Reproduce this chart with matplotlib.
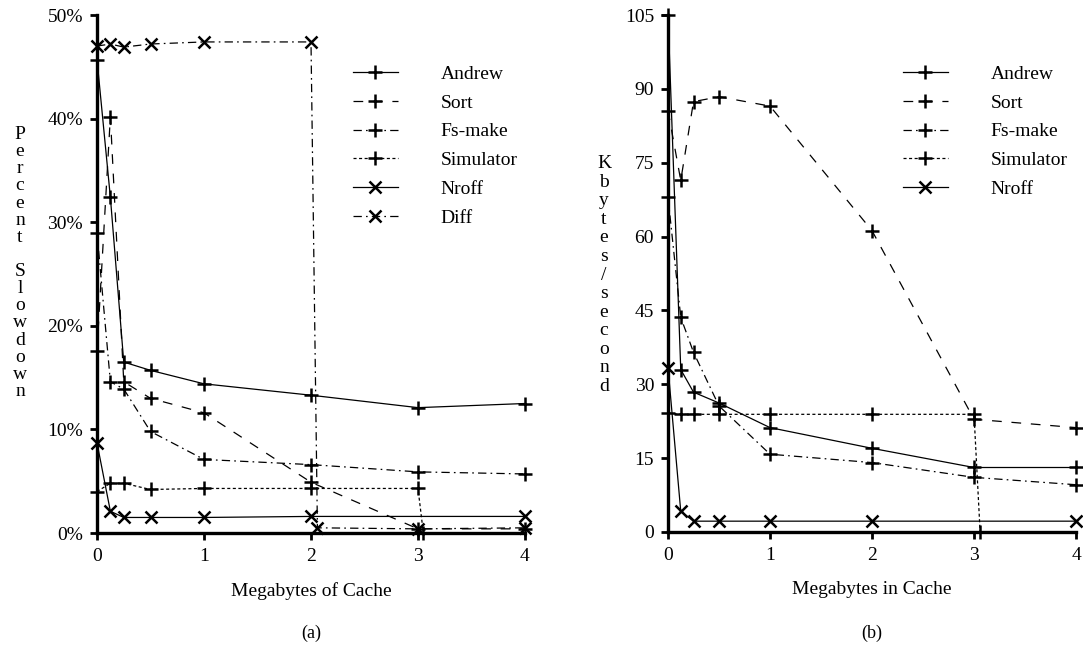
import numpy as np
import matplotlib
matplotlib.use("Agg")
import matplotlib.pyplot as plt
from matplotlib.legend_handler import HandlerLine2D
from matplotlib.ticker import FuncFormatter

plt.rcParams['font.family'] = ['Liberation Serif', 'DejaVu Serif']
plt.rcParams['lines.scale_dashes'] = False

# ---------------- data (a) ----------------
x_a = [0, 0.125, 0.25, 0.5, 1, 2, 3, 4]
andrew_a = [45.7, 32.4, 16.5, 15.7, 14.4, 13.3, 12.1, 12.5]
sort_a = [17.6, 40.2, 14.6, 13.0, 11.6, 4.9, 0.4, 0.4]
fsmake_a = [29.0, 14.6, 13.9, 9.8, 7.1, 6.6, 5.9, 5.7]
sim_x_a = [0, 0.125, 0.25, 0.5, 1, 2, 3, 3.05]
sim_a = [4.0, 4.8, 4.8, 4.2, 4.3, 4.3, 4.3, 0.0]
nroff_x_a = [0, 0.125, 0.25, 0.5, 1, 2, 4]
nroff_a = [8.7, 2.1, 1.5, 1.5, 1.5, 1.6, 1.6]
diff_x_a = [0, 0.125, 0.25, 0.5, 1, 2, 2.06, 3, 4]
diff_a = [47.0, 47.2, 46.9, 47.2, 47.4, 47.4, 0.5, 0.4, 0.5]

# ---------------- data (b) ----------------
x_b = [0, 0.125, 0.25, 0.5, 1, 2, 3, 4]
andrew_b = [105, 33.0, 28.4, 26.2, 21.2, 17.0, 13.1, 13.1]
sort_b = [85.6, 71.4, 87.4, 88.4, 86.5, 61.2, 22.9, 21.2]
fsmake_b = [68.0, 43.6, 36.5, 25.6, 15.8, 14.1, 11.1, 9.6]
sim_x_b = [0, 0.125, 0.25, 0.5, 1, 2, 3, 3.06]
sim_b = [24.2, 23.9, 23.9, 23.9, 23.9, 23.9, 23.9, 0.0]
nroff_x_b = [0, 0.125, 0.25, 0.5, 1, 2, 4]
nroff_b = [33.4, 4.2, 2.2, 2.2, 2.2, 2.2, 2.2]

xticks = [0, 1, 2, 3, 4]
yticks_a = [0, 10, 20, 30, 40, 50]
yticks_b = [0, 15, 30, 45, 60, 75, 90, 105]

FS = 14
LW = 0.9
styles = {
    'Andrew':    dict(ls='-', marker='+'),
    'Sort':      dict(ls=(0, (7, 7)), marker='+'),
    'Fs-make':   dict(ls=(0, (6, 3, 1.2, 3)), marker='+'),
    'Simulator': dict(ls=(0, (2.2, 1.8)), marker='+'),
    'Nroff':     dict(ls='-', marker='x'),
    'Diff':      dict(ls=(0, (6, 3, 1.2, 3)), marker='x'),
}


class HandlerRightMarker(HandlerLine2D):
    def get_xdata(self, legend, xdescent, ydescent, width, height, fontsize):
        xdata = np.array([-xdescent, -xdescent + width])
        xdata_marker = np.array([-xdescent + 0.73 * width])
        return xdata, xdata_marker


fig = plt.figure(figsize=(10.83, 6.48), dpi=100)
W, H = 1083.0, 648.0


def make_ax(l, r, t, b):
    return fig.add_axes([l / W, 1 - b / H, (r - l) / W, (b - t) / H])


def style_ax(ax, ymax, yticks):
    ax.set_xlim(0, 4)
    ax.set_ylim(0, ymax)
    for s in ['top', 'right']:
        ax.spines[s].set_visible(False)
    for s in ['left', 'bottom']:
        ax.spines[s].set_linewidth(2.4)
        ax.spines[s].set_zorder(2)
    ax.set_xticks(xticks)
    ax.set_yticks(yticks)
    ax.tick_params(direction='out', length=5, width=2.0, labelsize=FS, pad=5)
    ax.tick_params(axis='x', pad=6)


def draw(ax, name, x, y):
    st = styles[name]
    ms = 10 if st['marker'] == '+' else 8
    ax.plot(x, y, color='black', lw=LW, linestyle=st['ls'], marker=st['marker'],
            ms=ms, mew=1.8, label=name, clip_on=False, zorder=3)


def add_legend(ax, x0):
    ax.legend(loc='upper left', bbox_to_anchor=(x0 / W, 1 - 65 / H),
              bbox_transform=fig.transFigure, frameon=False, fontsize=FS,
              handlelength=2.3, handletextpad=2.2, labelspacing=0.58,
              borderpad=0, borderaxespad=0, numpoints=1,
              handler_map={matplotlib.lines.Line2D: HandlerRightMarker()})


# ---------- (a) ----------
axa = make_ax(97, 525, 15, 533)
style_ax(axa, 50, yticks_a)
axa.yaxis.set_major_formatter(FuncFormatter(lambda v, p: f"{int(v)}%"))
draw(axa, 'Andrew', x_a, andrew_a)
draw(axa, 'Sort', x_a, sort_a)
draw(axa, 'Fs-make', x_a, fsmake_a)
draw(axa, 'Simulator', sim_x_a, sim_a)
draw(axa, 'Nroff', nroff_x_a, nroff_a)
draw(axa, 'Diff', diff_x_a, diff_a)
axa.set_xlabel('Megabytes of Cache', fontsize=FS, labelpad=12)
add_legend(axa, 353)

# ---------- (b) ----------
axb = make_ax(668, 1076, 15, 532)
style_ax(axb, 105, yticks_b)
draw(axb, 'Andrew', x_b, andrew_b)
draw(axb, 'Sort', x_b, sort_b)
draw(axb, 'Fs-make', x_b, fsmake_b)
draw(axb, 'Simulator', sim_x_b, sim_b)
draw(axb, 'Nroff', nroff_x_b, nroff_b)
axb.set_xlabel('Megabytes in Cache', fontsize=FS, labelpad=12)
add_legend(axb, 903)

# stacked vertical y labels
fig.text(20 / W, 1 - 263 / H, '\n'.join(list('Percent') + [''] + list('Slowdown')),
         ha='center', va='center', fontsize=FS, linespacing=1.01)
fig.text(604 / W, 1 - 275 / H, '\n'.join(list('Kbytes/second')),
         ha='center', va='center', fontsize=FS, linespacing=1.12)

# captions
fig.text(311 / W, 1 - 633 / H, '(a)', ha='center', va='center', fontsize=FS - 1)
fig.text(872 / W, 1 - 633 / H, '(b)', ha='center', va='center', fontsize=FS - 1)

fig.savefig('out.png', dpi=100)
